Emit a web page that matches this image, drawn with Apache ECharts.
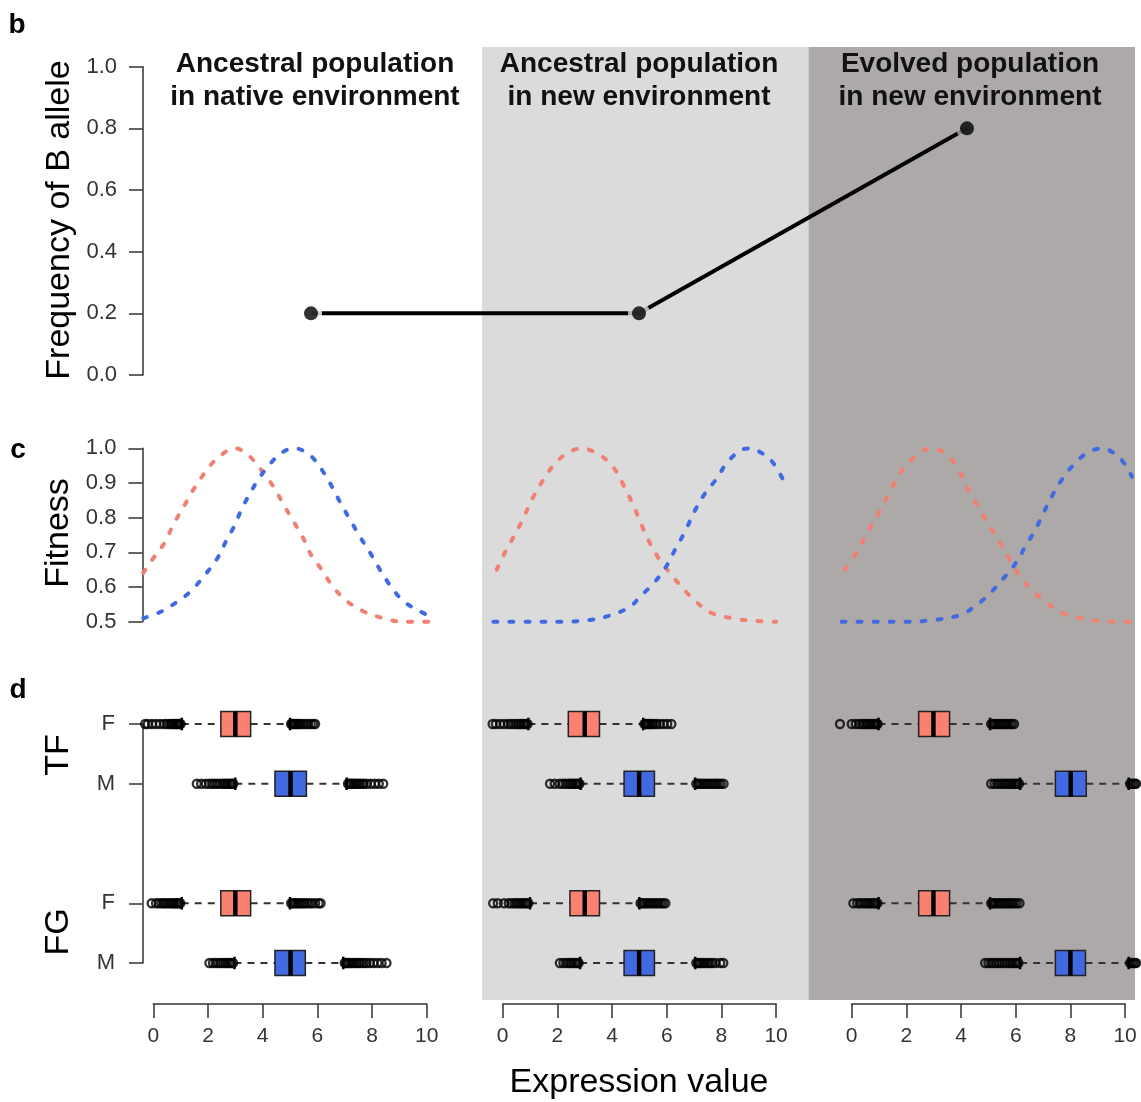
<!DOCTYPE html>
<html lang="en">
<head>
<meta charset="UTF-8">
<title>Expression evolution</title>
<style>
  html, body { margin: 0; padding: 0; background: #fff; }
  #main { width: 1141px; height: 1102px; }
</style>
</head>
<body>
<div id="main"></div>
<script src="https://cdn.jsdelivr.net/npm/echarts@6/dist/echarts.min.js"></script>
<script>
// panel b: frequency of the B allele in the three populations
var popTitles = ['Ancestral population\nin native environment',
                 'Ancestral population\nin new environment',
                 'Evolved population\nin new environment'];
var bX = [1, 2, 3];
var bFreq = [0.2, 0.2, 0.8];

// panel c: fitness curves, [expression, fitness]
var fitRed1 = [[-0.37,0.64],[-0.12,0.67],[0.43,0.73],[0.73,0.78],[1.10,0.83],[1.46,0.88],[1.89,0.93],[2.32,0.97],[2.99,1.0],[3.48,0.98],[4.02,0.93],[4.39,0.89],[4.75,0.84],[5.12,0.79],[5.49,0.74],[5.79,0.69],[6.16,0.65],[6.58,0.60],[7.07,0.56],[7.68,0.53],[8.41,0.51],[9.14,0.50],[10.37,0.50]];
var fitBlue1 = [[-0.37,0.51],[0.31,0.53],[0.92,0.56],[1.40,0.59],[1.89,0.635],[2.32,0.68],[2.68,0.735],[2.99,0.78],[3.23,0.825],[3.54,0.87],[3.84,0.91],[4.27,0.955],[4.75,0.99],[5.18,1.0],[5.73,0.98],[6.10,0.945],[6.46,0.90],[6.83,0.845],[7.19,0.795],[7.56,0.745],[7.92,0.70],[8.29,0.65],[8.66,0.605],[9.14,0.56],[9.75,0.53],[10.30,0.51]];
var fitRed2 = [[-0.22,0.65],[0.15,0.71],[0.51,0.76],[0.82,0.81],[1.12,0.86],[1.49,0.91],[1.85,0.95],[2.34,0.985],[2.89,1.0],[3.56,0.98],[4.05,0.945],[4.41,0.895],[4.78,0.835],[5.02,0.79],[5.33,0.735],[5.69,0.685],[6.12,0.64],[6.55,0.60],[6.97,0.565],[7.64,0.525],[8.56,0.508],[9.29,0.502],[10.0,0.50]];
var fitBlue2 = [[-0.34,0.50],[0.9,0.50],[2.2,0.50],[3.2,0.505],[3.93,0.518],[4.66,0.543],[5.02,0.572],[5.51,0.61],[5.94,0.654],[6.30,0.707],[6.67,0.76],[7.04,0.822],[7.40,0.87],[7.83,0.913],[8.19,0.957],[8.68,0.993],[9.05,1.0],[9.48,0.986],[9.90,0.957],[10.39,0.889]];
var fitRed3 = [[-0.25,0.65],[0.18,0.70],[0.55,0.755],[1.04,0.82],[1.40,0.875],[1.77,0.928],[2.25,0.971],[2.80,0.998],[3.35,0.99],[3.84,0.947],[4.27,0.88],[4.69,0.822],[5.06,0.774],[5.43,0.726],[5.79,0.678],[6.16,0.63],[6.59,0.591],[7.07,0.558],[7.68,0.526],[8.36,0.51],[9.09,0.502],[10.30,0.50]];
var fitBlue3 = [[-0.37,0.50],[0.79,0.50],[2.01,0.50],[2.99,0.505],[3.96,0.519],[4.57,0.548],[5.06,0.582],[5.55,0.625],[6.04,0.673],[6.34,0.716],[6.71,0.764],[7.01,0.813],[7.38,0.87],[7.68,0.909],[8.05,0.947],[8.60,0.986],[9.15,1.0],[9.82,0.971],[10.25,0.918]];

// panel d: boxplots, rows TF-F, TF-M, FG-F, FG-M ; [lo whisker, q1, median, q3, hi whisker]
var rowPos = [1, 2, 4, 5];
var rowLabels = ['F', 'M', 'F', 'M'];
var boxNative = [[1.04,2.47,3.0,3.56,5.0],[3.0,4.45,5.02,5.6,7.07],[1.04,2.47,3.0,3.56,5.0],[2.97,4.45,5.02,5.56,6.95]];
var boxNewAnc = [[0.94,2.4,3.0,3.54,5.14],[2.85,4.44,4.99,5.55,7.04],[1.0,2.46,3.0,3.54,5.0],[2.83,4.44,4.99,5.55,7.04]];
var boxEvolved = [[0.98,2.45,2.99,3.58,5.06],[6.16,7.45,8.01,8.58,10.13],[0.98,2.45,2.99,3.58,5.06],[6.16,7.45,8.0,8.55,10.13]];

// outliers (low and high side) per row
var lowNative = [
  [-0.3,-0.2,-0.05,0.1,0.25,0.4,0.5,0.6,0.66,0.72,0.78,0.83,0.88,0.92,0.96,1.0],
  [1.59,1.75,1.92,2.05,2.15,2.25,2.35,2.45,2.55,2.62,2.69,2.76,2.82,2.88,2.93],
  [-0.06,0.1,0.2,0.3,0.38,0.46,0.54,0.62,0.69,0.76,0.82,0.88,0.94,0.99],
  [2.05,2.18,2.28,2.38,2.47,2.56,2.64,2.72,2.79,2.86,2.92]];
var highNative = [
  [5.04,5.08,5.12,5.17,5.22,5.27,5.33,5.4,5.48,5.57,5.66,5.76,5.85,5.92],
  [7.12,7.17,7.22,7.28,7.34,7.4,7.47,7.54,7.62,7.7,7.8,7.95,8.1,8.25,8.41],
  [5.04,5.1,5.16,5.22,5.29,5.36,5.44,5.52,5.6,5.7,5.8,5.92,6.05,6.12],
  [7.0,7.05,7.1,7.16,7.22,7.29,7.36,7.44,7.52,7.6,7.7,7.8,7.92,8.05,8.2,8.35,8.53]];
var lowNewAnc = [
  [-0.37,-0.25,-0.1,0.05,0.2,0.3,0.4,0.5,0.58,0.66,0.73,0.8,0.86,0.91],
  [1.73,1.9,2.08,2.2,2.3,2.4,2.48,2.56,2.63,2.7,2.76,2.81],
  [-0.35,-0.18,0.05,0.22,0.32,0.42,0.5,0.58,0.66,0.74,0.81,0.88,0.94],
  [2.09,2.22,2.32,2.42,2.5,2.58,2.65,2.72,2.78]];
var highNewAnc = [
  [5.18,5.23,5.28,5.34,5.4,5.47,5.55,5.63,5.75,5.88,6.02,6.17],
  [7.08,7.14,7.2,7.27,7.34,7.42,7.5,7.58,7.66,7.74,7.82,7.9,7.98,8.08],
  [5.04,5.1,5.17,5.24,5.31,5.39,5.47,5.55,5.63,5.71,5.79,5.87,5.95],
  [7.08,7.14,7.2,7.27,7.34,7.42,7.5,7.58,7.66,7.78,7.96,8.07]];
var lowEvolved = [
  [-0.43,0.0,0.15,0.28,0.38,0.47,0.55,0.63,0.7,0.77,0.84,0.9,0.95],
  [5.1,5.22,5.32,5.42,5.52,5.6,5.68,5.76,5.84,5.92,5.99,6.06,6.12],
  [0.06,0.2,0.3,0.4,0.5,0.58,0.66,0.74,0.81,0.88,0.94],
  [4.88,5.0,5.1,5.2,5.3,5.4,5.5,5.6,5.7,5.8,5.88,5.96,6.04,6.1]];
var highEvolved = [
  [5.1,5.16,5.23,5.3,5.38,5.46,5.54,5.62,5.7,5.78,5.86,5.94],
  [10.18,10.24,10.3,10.36,10.4],
  [5.1,5.16,5.23,5.3,5.38,5.46,5.54,5.62,5.7,5.78,5.86,5.95,6.04,6.14],
  [10.18,10.24,10.3,10.36,10.4]];

var FONT = '"Liberation Sans", Arial, Helvetica, sans-serif';
var RED = '#F08072', BLUE = '#4169E1';
var BOX_RED = '#FA8072', BOX_BLUE = '#4169E1';
var LIGHT = '#dbdbdb', DARK = '#ada9a8';
var colLeft = [153.3, 502.7, 851.7];
var colWidth = 273.4;
var pxPerUnit = colWidth / 10;

var chart = echarts.init(document.getElementById('main'));

var axisLineStyle = { color: '#333', width: 1.5 };
function hiddenAxis(grid, min, max, inverse) {
    return { type: 'value', gridIndex: grid, min: min, max: max, inverse: !!inverse, show: false };
}

var grids = [{ left: 147, top: 66.7, width: 984, height: 308.3, outerBoundsMode: 'none' }];
var xAxes = [hiddenAxis(0, 0.5, 3.5)];
var yAxes = [{
    type: 'value', gridIndex: 0, min: 0, max: 1, interval: 0.2, offset: 4,
    axisLine: { show: true, onZero: false, lineStyle: axisLineStyle },
    axisTick: { show: true, length: 14, lineStyle: axisLineStyle },
    axisLabel: { fontSize: 22, color: '#333', fontFamily: FONT, margin: 26,
                 formatter: function (v) { return v.toFixed(1); } },
    splitLine: { show: false }
}];
// fitness grids span the padded range -0.4 .. 10.4
for (var i = 0; i < 3; i++) {
    grids.push({ left: colLeft[i] - 0.4 * pxPerUnit, top: 448.3, width: 10.8 * pxPerUnit, height: 173.4,
                 outerBoundsMode: 'none' });
    xAxes.push(hiddenAxis(i + 1, -0.4, 10.4));
    if (i === 0) {
        yAxes.push({
            type: 'value', gridIndex: 1, min: 0.5, max: 1, interval: 0.1, offset: 0,
            axisLine: { show: true, onZero: false, lineStyle: axisLineStyle },
            axisTick: { show: true, length: 14, lineStyle: axisLineStyle },
            axisLabel: { fontSize: 22, color: '#333', fontFamily: FONT, margin: 26,
                         formatter: function (v) { return v.toFixed(1); } },
            splitLine: { show: false }
        });
    } else {
        yAxes.push(hiddenAxis(i + 1, 0.5, 1));
    }
}
// boxplot grids
for (var j = 0; j < 3; j++) {
    grids.push({ left: colLeft[j], top: 724, width: colWidth, height: 239, outerBoundsMode: 'none' });
    xAxes.push({
        type: 'value', gridIndex: j + 4, min: 0, max: 10, interval: 2, offset: 41,
        axisLine: { show: true, onZero: false, lineStyle: axisLineStyle },
        axisTick: { show: true, length: 14, lineStyle: axisLineStyle },
        axisLabel: { fontSize: 21, color: '#333', fontFamily: FONT, margin: 22 },
        splitLine: { show: false }
    });
    if (j === 0) {
        yAxes.push({
            type: 'value', gridIndex: 4, min: 1, max: 5, inverse: true, offset: 10.3,
            axisLine: { show: true, onZero: false, lineStyle: axisLineStyle },
            axisTick: { show: true, length: 14, lineStyle: axisLineStyle, customValues: rowPos },
            axisLabel: { fontSize: 22, color: '#333', fontFamily: FONT, margin: 28, customValues: rowPos,
                         formatter: function (v) { return rowLabels[rowPos.indexOf(v)] || ''; } },
            splitLine: { show: false }
        });
    } else {
        yAxes.push(hiddenAxis(j + 4, 1, 5, true));
    }
}

var series = [];
// panel b
var bData = bX.map(function (x, k) { return [x, bFreq[k]]; });
series.push({
    type: 'line', xAxisIndex: 0, yAxisIndex: 0, data: bData, symbol: 'none',
    lineStyle: { color: '#000', width: 4 }, z: 2
});
var haloColors = ['#ffffff', LIGHT, DARK];
series.push({
    type: 'scatter', xAxisIndex: 0, yAxisIndex: 0, symbolSize: 22, z: 3,
    data: bData.map(function (d, k) { return { value: d, itemStyle: { color: haloColors[k] } }; })
});
series.push({
    type: 'scatter', xAxisIndex: 0, yAxisIndex: 0, symbolSize: 14, z: 4,
    data: bData, itemStyle: { color: '#000' }
});

// panel c
var redCurves = [fitRed1, fitRed2, fitRed3];
var blueCurves = [fitBlue1, fitBlue2, fitBlue3];
for (var c = 0; c < 3; c++) {
    [[redCurves[c], RED], [blueCurves[c], BLUE]].forEach(function (pair) {
        series.push({
            type: 'line', xAxisIndex: c + 1, yAxisIndex: c + 1, data: pair[0],
            smooth: 0.35, showSymbol: false, clip: false,
            lineStyle: { color: pair[1], width: 4, type: [4, 12], cap: 'round' }
        });
    });
}

// panel d
var boxCols = [boxNative, boxNewAnc, boxEvolved];
var lowCols = [lowNative, lowNewAnc, lowEvolved];
var highCols = [highNative, highNewAnc, highEvolved];

function renderBox(params, api) {
    var y = api.value(0);
    var p = function (k) { return api.coord([api.value(k), y]); };
    var lo = p(1), q1 = p(2), md = p(3), q3 = p(4), hi = p(5);
    var h = api.size([0, 1])[1] * 0.42;
    var fill = api.value(6) === 0 ? BOX_RED : BOX_BLUE;
    var dash = { stroke: '#333', lineWidth: 2.2, lineDash: [7, 6] };
    var staple = { stroke: '#000', lineWidth: 2.5 };
    return {
        type: 'group',
        children: [
            { type: 'line', shape: { x1: lo[0], y1: lo[1], x2: q1[0], y2: q1[1] }, style: dash },
            { type: 'line', shape: { x1: q3[0], y1: q3[1], x2: hi[0], y2: hi[1] }, style: dash },
            { type: 'line', shape: { x1: lo[0], y1: lo[1] - h / 4, x2: lo[0], y2: lo[1] + h / 4 }, style: staple },
            { type: 'line', shape: { x1: hi[0], y1: hi[1] - h / 4, x2: hi[0], y2: hi[1] + h / 4 }, style: staple },
            { type: 'rect', shape: { x: q1[0], y: q1[1] - h / 2, width: q3[0] - q1[0], height: h },
              style: { fill: fill, stroke: '#222', lineWidth: 1.5 } },
            { type: 'line', shape: { x1: md[0], y1: md[1] - h / 2, x2: md[0], y2: md[1] + h / 2 },
              style: { stroke: '#000', lineWidth: 4.5 } }
        ]
    };
}

for (var d = 0; d < 3; d++) {
    var boxData = boxCols[d].map(function (s, r) {
        return [rowPos[r]].concat(s).concat([rowLabels[r] === 'F' ? 0 : 1]);
    });
    series.push({
        type: 'custom', xAxisIndex: d + 4, yAxisIndex: d + 4, renderItem: renderBox,
        encode: { x: [1, 2, 3, 4, 5], y: 0 }, data: boxData, z: 2
    });
    var outData = [];
    for (var r = 0; r < 4; r++) {
        lowCols[d][r].concat(highCols[d][r]).forEach(function (v) { outData.push([v, rowPos[r]]); });
    }
    series.push({
        type: 'scatter', xAxisIndex: d + 4, yAxisIndex: d + 4, data: outData, clip: false,
        symbol: 'circle', symbolSize: 8, z: 3,
        itemStyle: { color: 'rgba(0,0,0,0)', borderColor: '#000', borderWidth: 2.3 }
    });
}

function txt(x, y, text, size, weight, rot, extra) {
    var st = { text: text, x: 0, y: 0, fill: '#000',
               font: (weight || 'normal') + ' ' + size + 'px ' + FONT,
               align: 'center', verticalAlign: 'middle', textAlign: 'center', textVerticalAlign: 'middle' };
    if (extra) { for (var k in extra) st[k] = extra[k]; }
    return { type: 'text', x: x, y: y, rotation: rot || 0, style: st, z: 10 };
}

var titleX = [315, 639, 970];
var graphics = [
    { type: 'rect', shape: { x: 482, y: 47, width: 326.5, height: 953 }, style: { fill: LIGHT }, z: -10 },
    { type: 'rect', shape: { x: 808.5, y: 47, width: 326.5, height: 953 }, style: { fill: DARK }, z: -10 },
    txt(17, 25, 'b', 28, 'bold'),
    txt(18, 450, 'c', 28, 'bold'),
    txt(18, 690, 'd', 28, 'bold'),
    txt(60, 220, 'Frequency of B allele', 34, 'normal', Math.PI / 2),
    txt(59, 533, 'Fitness', 34, 'normal', Math.PI / 2),
    txt(59, 755, 'TF', 34, 'normal', Math.PI / 2),
    txt(59, 932, 'FG', 34, 'normal', Math.PI / 2),
    txt(639, 1083, 'Expression value', 34, 'normal')
];
titleX.forEach(function (x, k) {
    graphics.push(txt(x, 81, popTitles[k], 28, 'bold', 0, { lineHeight: 33, fill: '#111' }));
});

chart.setOption({
    animation: false,
    backgroundColor: '#fff',
    grid: grids,
    xAxis: xAxes,
    yAxis: yAxes,
    graphic: { elements: graphics },
    series: series
});
</script>
</body>
</html>
